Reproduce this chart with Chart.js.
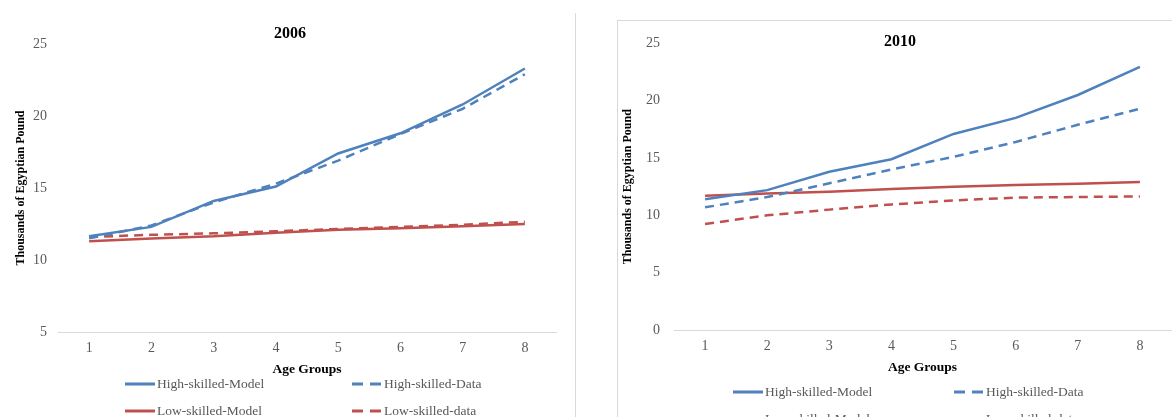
<!DOCTYPE html>
<html>
<head>
<meta charset="utf-8">
<script src="https://cdn.jsdelivr.net/npm/chart.js@4.4.1/dist/chart.umd.min.js"></script>
<style>
  body { margin: 0; background: #fff; width: 1172px; height: 417px; overflow: hidden; position: relative; font-family: "Liberation Serif", serif; }
  .abs { position: absolute; }
  .divider { left: 575px; top: 13px; width: 1px; height: 404px; background: #d9d9d9; }
  .box2 { left: 617px; top: 20px; width: 600px; height: 450px; border: 1px solid #d9d9d9; }
  .ttl { font-weight: bold; font-size: 16px; color: #000; transform: translate(-50%, -50%); white-space: nowrap; }
  .legend { display: grid; grid-template-rows: 27px 27px; font-size: 13.5px; color: #595959; }
  .item { display: flex; align-items: center; white-space: nowrap; }
  .item svg { margin-right: 2px; }
</style>
</head>
<body>
<div class="abs divider"></div>
<div class="abs box2"></div>
<canvas id="c2006" class="abs" style="left:0;top:0" width="575" height="380"></canvas>
<canvas id="c2010" class="abs" style="left:618px;top:21px" width="554" height="360"></canvas>
<div class="abs ttl" style="left:290px;top:33px">2006</div>
<div class="abs ttl" style="left:900px;top:41px">2010</div>
<div id="leg2006" class="abs legend" style="left:125px;top:370px;grid-template-columns:227px 200px"></div>
<div id="leg2010" class="abs legend" style="left:733px;top:378px;grid-template-columns:221px 200px"></div>

<script>
const ageGroups = ["1", "2", "3", "4", "5", "6", "7", "8"];
const seriesNames = ["High-skilled-Model", "High-skilled-Data", "Low-skilled-Model", "Low-skilled-data"];

// 2006 (thousands of Egyptian pound)
const high2006Model = [11.65, 12.3, 14.1, 15.1, 17.4, 18.8, 20.8, 23.3];
const high2006Data  = [11.5, 12.4, 14.0, 15.3, 16.9, 18.75, 20.5, 22.9];
const low2006Model  = [11.3, 11.5, 11.65, 11.9, 12.1, 12.2, 12.35, 12.5];
const low2006Data   = [11.6, 11.75, 11.85, 12.0, 12.15, 12.3, 12.45, 12.65];

// 2010
const high2010Model = [11.4, 12.2, 13.8, 14.9, 17.1, 18.5, 20.5, 22.95];
const high2010Data  = [10.7, 11.6, 12.8, 14.0, 15.1, 16.4, 17.9, 19.3];
const low2010Model  = [11.7, 11.9, 12.05, 12.3, 12.5, 12.65, 12.75, 12.9];
const low2010Data   = [9.25, 10.0, 10.5, 10.95, 11.3, 11.55, 11.6, 11.65];

const blue = "#4f81bd";
const red = "#c0504d";
const dash = [9, 6];
const fontFam = "'Liberation Serif', serif";

function makeDatasets(hm, hd, lm, ld) {
  const cols = [blue, blue, red, red];
  const dashes = [[], dash, [], dash];
  return [hm, hd, lm, ld].map((d, i) => ({
    label: seriesNames[i],
    data: d,
    borderColor: cols[i],
    borderWidth: 2.5,
    borderDash: dashes[i],
    pointRadius: 0,
    tension: 0,
    fill: false
  }));
}

function makeChart(id, datasets, yMin, cfg) {
  return new Chart(document.getElementById(id), {
    type: "line",
    data: { labels: ageGroups, datasets: datasets },
    options: {
      responsive: false,
      animation: false,
      layout: { padding: { top: cfg.top, right: cfg.right, left: 0, bottom: 0 } },
      plugins: { legend: { display: false }, tooltip: { enabled: false } },
      scales: {
        x: {
          offset: true,
          grid: { display: false, drawTicks: false },
          border: { display: true, color: "#d9d9d9", width: 1 },
          ticks: { color: "#595959", font: { family: fontFam, size: 14 }, padding: 8 },
          title: {
            display: true, text: "Age Groups", color: "#000",
            font: { family: fontFam, size: 13.5, weight: "bold" },
            padding: { top: 0, bottom: cfg.xTitlePad }
          },
          afterFit: s => { s.height = cfg.xHeight; }
        },
        y: {
          min: yMin,
          max: 25,
          grid: { display: false, drawTicks: false },
          border: { display: false },
          ticks: { stepSize: 5, color: "#595959", font: { family: fontFam, size: 14 }, padding: cfg.tickPad },
          title: {
            display: true, text: "Thousands of Egyptian Pound", color: "#000",
            font: { family: fontFam, size: 12, weight: "bold" },
            padding: { top: cfg.yTitlePad, bottom: 0 }
          },
          afterFit: s => { s.width = cfg.yWidth; }
        }
      }
    }
  });
}

function makeLegend(id, datasets) {
  const el = document.getElementById(id);
  datasets.forEach(ds => {
    const da = ds.borderDash.length ? ' stroke-dasharray="11 7"' : "";
    const item = document.createElement("div");
    item.className = "item";
    item.innerHTML = '<svg width="30" height="6"><line x1="0" y1="3" x2="30" y2="3" stroke="' +
      ds.borderColor + '" stroke-width="3"' + da + '/></svg><span>' + ds.label + '</span>';
    el.appendChild(item);
  });
}

const ds2006 = makeDatasets(high2006Model, high2006Data, low2006Model, low2006Data);
const ds2010 = makeDatasets(high2010Model, high2010Data, low2010Model, low2010Data);

makeChart("c2006", ds2006, 5, { top: 44, right: 19, xHeight: 48, xTitlePad: 2, yWidth: 58, yTitlePad: 14, tickPad: 11 });
makeChart("c2010", ds2010, 0, { top: 17, right: 1, xHeight: 51, xTitlePad: 5, yWidth: 56, yTitlePad: 3, tickPad: 14 });

makeLegend("leg2006", ds2006);
makeLegend("leg2010", ds2010);
</script>
</body>
</html>
